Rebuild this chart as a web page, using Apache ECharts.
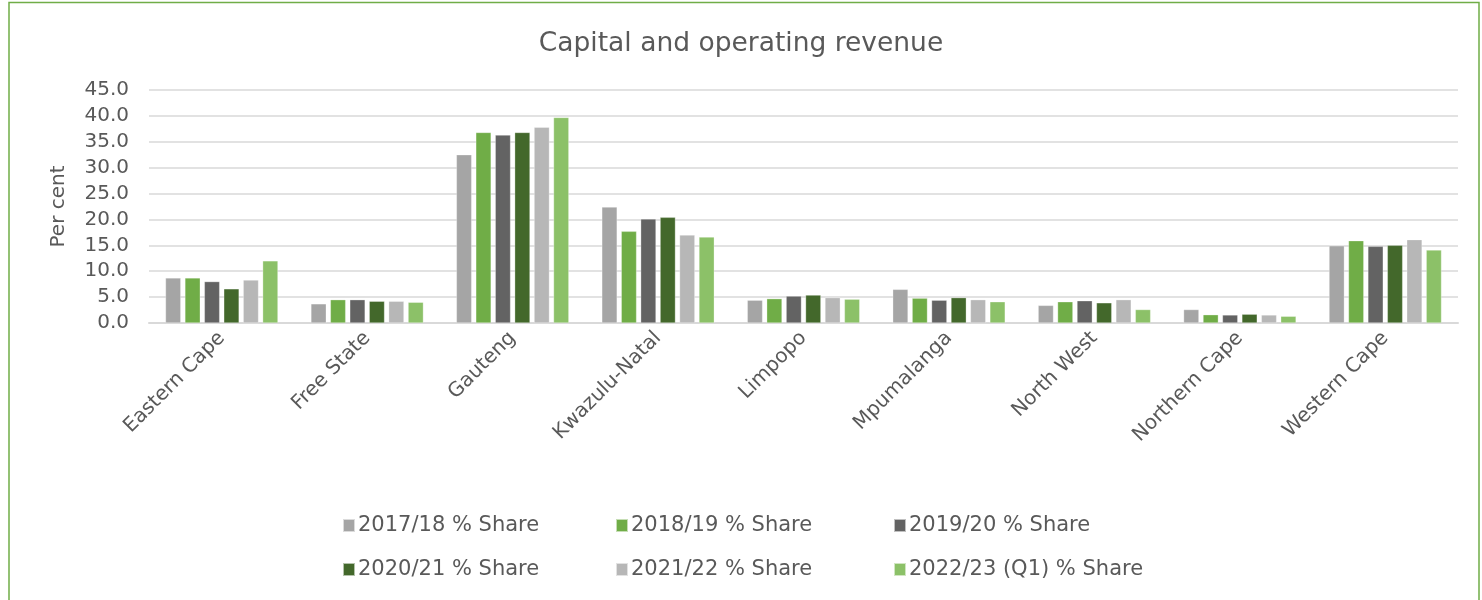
<!DOCTYPE html>
<html><head><meta charset="utf-8">
<script src="https://cdn.jsdelivr.net/npm/echarts@6/dist/echarts.min.js"></script>
<style>html,body{margin:0;padding:0;background:#fff}#c{width:1482px;height:600px}</style>
</head><body><div id="c"></div>
<script>
const categories = ['Eastern Cape','Free State','Gauteng','Kwazulu-Natal','Limpopo','Mpumalanga','North West','Northern Cape','Western Cape'];
const seriesNames = ['2017/18 % Share','2018/19 % Share','2019/20 % Share','2020/21 % Share','2021/22 % Share','2022/23 (Q1) % Share'];
const s2017 = [8.7, 3.7, 32.5, 22.4, 4.4, 6.5, 3.4, 2.6, 14.9];
const s2018 = [8.7, 4.5, 36.8, 17.7, 4.7, 4.8, 4.1, 1.6, 15.9];
const s2019 = [8.0, 4.5, 36.3, 20.1, 5.2, 4.4, 4.3, 1.55, 14.8];
const s2020 = [6.6, 4.2, 36.8, 20.4, 5.4, 4.9, 3.9, 1.7, 15.0];
const s2021 = [8.3, 4.2, 37.8, 17.0, 4.9, 4.5, 4.5, 1.55, 16.1];
const s2022 = [12.0, 4.0, 39.7, 16.6, 4.6, 4.1, 2.6, 1.3, 14.1];
const colors = ['#A5A5A5','#70AD47','#636363','#43682B','#B7B7B7','#8CC168'];
const allData = [s2017, s2018, s2019, s2020, s2021, s2022];
const font = '"DejaVu Sans", sans-serif';
const txt = '#595959';

const legendPos = [[337,510],[610,510],[888,510],[337,554],[610,554],[888,554]];
const legends = seriesNames.map((n,i)=>({
  data:[n], left:legendPos[i][0], top:legendPos[i][1], icon:'rect', itemWidth:12, itemHeight:13, itemGap:0,
  selectedMode:false, textStyle:{color:txt, fontSize:21, fontFamily:font, padding:[0,0,0,-2]}
}));

const chart = echarts.init(document.getElementById('c'));
chart.setOption({
  animation:false,
  title:{text:'Capital and operating revenue', left:'center', top:26, textStyle:{color:txt, fontSize:26.5, fontWeight:'normal', fontFamily:font}},
  graphic:[{type:'rect', shape:{x:9, y:2.5, width:1470, height:610}, style:{fill:'none', stroke:'#70AD47', lineWidth:1.5}, silent:true}],
  legend:legends,
  grid:{left:149, right:24, top:90, bottom:277, containLabel:false},
  xAxis:{type:'category', data:categories,
    axisLine:{lineStyle:{color:'#D9D9D9', width:2}}, axisTick:{show:false},
    axisLabel:{rotate:45, color:txt, fontSize:20, fontFamily:font, margin:12, interval:0}},
  yAxis:{type:'value', min:0, max:45, interval:5, name:'Per cent', nameLocation:'middle', nameGap:80,
    nameTextStyle:{color:txt, fontSize:20, fontFamily:font},
    axisLabel:{color:txt, fontSize:20, fontFamily:font, margin:20, formatter:v=>v.toFixed(1)},
    splitLine:{lineStyle:{color:'#D9D9D9', width:1.5}}, axisLine:{show:false}, axisTick:{show:false}},
  series: seriesNames.map((n,i)=>({name:n, type:'bar', data:allData[i], barWidth:15.3, barGap:'27%', barCategoryGap:'23%',
    itemStyle:{color:colors[i], borderColor:'rgba(255,255,255,0.6)', borderWidth:0.5}}))
});
</script></body></html>
